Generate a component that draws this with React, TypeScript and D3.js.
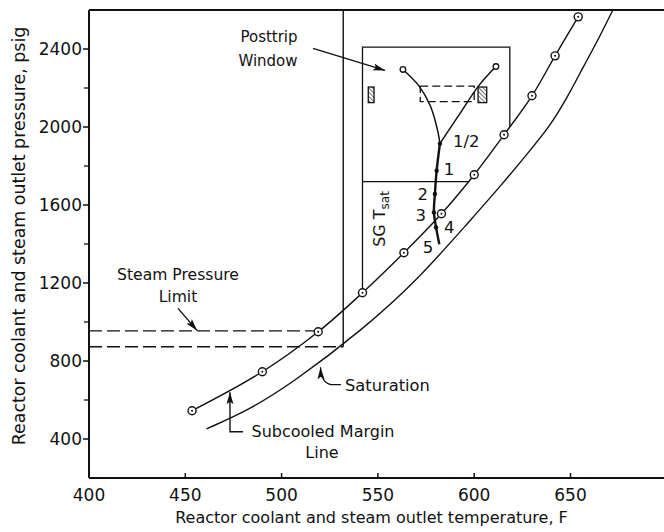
import React from 'react';
import * as d3 from 'd3';

// saturation line, temperature (F) / pressure (psig)
const satT = [461, 483, 506, 542, 571, 596, 614, 629, 639, 648, 657, 665, 672];
const satP = [452, 548, 690, 960, 1220, 1500, 1700, 1880, 2000, 2145, 2315, 2460, 2600];

// subcooled margin line (with circle markers)
const subT = [453.5, 490, 519, 542, 563.5, 583, 600, 615.5, 630, 642, 654];
const subP = [545, 745, 950, 1150, 1355, 1555, 1755, 1960, 2160, 2365, 2565];

// posttrip trajectory
const leftT = [563, 571.2, 577.2, 581.2, 582.2];
const leftP = [2295, 2212, 2109, 1974, 1914];
const rightT = [611.3, 602.3, 592, 585, 582.2];
const rightP = [2310, 2211, 2060, 1957, 1914];
const pathT = [582.2, 580.5, 579.6, 579.1, 580.2, 581.9];
const pathP = [1914, 1776, 1657, 1562, 1485, 1399];
const pathLabels = ['1/2', '1', '2', '3', '4', '5'];

// limits / window
const steamLimitHigh = 955;
const steamLimitLow = 873;
const sgTsat = 532;
const windowLeftT = 542;
const windowRightT = 618.5;
const windowTopP = 2410;
const windowMidP = 1720;
const windowMidEndT = 597;
const windowRightBottomP = 2000;
const windowLeftBottomP = 1150;
const dashBoxT = [572, 600];
const dashBoxP = [2130, 2210];
const hatchLeftT = [545, 548];
const hatchRightT = [602, 606.5];
const hatchP = [2125, 2205];

const xTicks = [400, 450, 500, 550, 600, 650];
const yTicks = [400, 800, 1200, 1600, 2000, 2400];
const yMinor = [600, 1000, 1400, 1800, 2200];

const W = 664;
const H = 532;
const FONT = 'DejaVu Sans, sans-serif';

export default function App() {
  const x = d3.scaleLinear().domain([400, 700]).range([89, 666.8]);
  const y = d3.scaleLinear().domain([200, 2600]).range([478, 10]);

  const line = d3
    .line<[number, number]>()
    .x(d => x(d[0]))
    .y(d => y(d[1]))
    .curve(d3.curveCatmullRom.alpha(0.5));
  // hand-read points are a bit noisy, so smooth the saturation line
  const smooth = d3
    .line<[number, number]>()
    .x(d => x(d[0]))
    .y(d => y(d[1]))
    .curve(d3.curveBasis);

  const zip = (a: number[], b: number[]) => a.map((v, i) => [v, b[i]] as [number, number]);
  const sat = zip(satT, satP);
  const sub = zip(subT, subP);
  const left = zip(leftT, leftP);
  const right = zip(rightT, rightP);
  const path = zip(pathT, pathP);

  // label offsets in px for the numbered points
  const labelOff: [number, number, string][] = [
    [13, 3, 'start'],
    [7, 4, 'start'],
    [-7, 6, 'end'],
    [-8, 9, 'end'],
    [8, 6, 'start'],
    [-6, 9, 'end'],
  ];

  const stroke = '#111';

  return (
    <svg
      width={W}
      height={H}
      style={{ position: 'absolute', left: 0, top: 0, background: '#fff' }}
      fontFamily={FONT}
    >
      <defs>
        <marker
          id="arr"
          viewBox="0 0 12 8"
          refX={12}
          refY={4}
          markerWidth={12}
          markerHeight={8}
          markerUnits="userSpaceOnUse"
          orient="auto"
        >
          <path d="M0,0.5 L12,4 L0,7.5 L2.5,4 z" fill={stroke} />
        </marker>
        <pattern id="hatch" width={3} height={3} patternUnits="userSpaceOnUse" patternTransform="rotate(-45)">
          <line x1={0} y1={0} x2={0} y2={3} stroke={stroke} strokeWidth={1.2} />
        </pattern>
      </defs>

      {/* frame */}
      <line x1={x(400)} x2={W} y1={y(200)} y2={y(200)} stroke={stroke} strokeWidth={2} />
      <line x1={x(400)} x2={W} y1={y(2600)} y2={y(2600)} stroke={stroke} strokeWidth={2} />
      <line x1={x(400)} x2={x(400)} y1={y(2600)} y2={y(200)} stroke={stroke} strokeWidth={2} />

      {/* x ticks (inward) */}
      {xTicks.map(t => (
        <g key={'x' + t}>
          {t > 400 && <line x1={x(t)} x2={x(t)} y1={y(200)} y2={y(200) - 5} stroke={stroke} strokeWidth={1.5} />}
          <text x={x(t)} y={501} textAnchor="middle" fontSize={17} fill={stroke}>
            {t}
          </text>
        </g>
      ))}

      {/* y ticks (outward) */}
      {yTicks.map(t => (
        <g key={'y' + t}>
          <line x1={x(400) - 6} x2={x(400)} y1={y(t)} y2={y(t)} stroke={stroke} strokeWidth={1.5} />
          <text x={82} y={y(t)} dy="0.36em" textAnchor="end" fontSize={17} fill={stroke}>
            {t}
          </text>
        </g>
      ))}
      {yMinor.map(t => (
        <line key={'m' + t} x1={x(400) - 5} x2={x(400)} y1={y(t)} y2={y(t)} stroke={stroke} strokeWidth={1.3} />
      ))}

      {/* axis titles */}
      <text x={371.5} y={523} textAnchor="middle" fontSize={16} fill={stroke}>
        Reactor coolant and steam outlet temperature, F
      </text>
      <text
        transform={`translate(25,236) rotate(-90)`}
        textAnchor="middle"
        fontSize={17.4}
        fill={stroke}
      >
        Reactor coolant and steam outlet pressure, psig
      </text>

      {/* steam pressure limit dashed lines */}
      <line
        x1={x(400)}
        x2={x(subT[2]) - 4}
        y1={y(steamLimitHigh)}
        y2={y(steamLimitHigh)}
        stroke={stroke}
        strokeWidth={1.3}
        strokeDasharray="13,5"
      />
      <line
        x1={x(400)}
        x2={x(sgTsat)}
        y1={y(steamLimitLow)}
        y2={y(steamLimitLow)}
        stroke={stroke}
        strokeWidth={1.3}
        strokeDasharray="13,5"
      />

      {/* SG Tsat vertical line */}
      <line x1={x(sgTsat)} x2={x(sgTsat)} y1={y(2600)} y2={y(steamLimitLow)} stroke={stroke} strokeWidth={1.4} />

      {/* posttrip window */}
      <path
        d={`M${x(windowLeftT)},${y(windowLeftBottomP)} V${y(windowTopP)} H${x(windowRightT)} V${y(windowRightBottomP)}`}
        fill="none"
        stroke={stroke}
        strokeWidth={1.3}
      />
      <line
        x1={x(windowLeftT)}
        x2={x(windowMidEndT)}
        y1={y(windowMidP)}
        y2={y(windowMidP)}
        stroke={stroke}
        strokeWidth={1.3}
      />
      <rect
        x={x(dashBoxT[0])}
        y={y(dashBoxP[1])}
        width={x(dashBoxT[1]) - x(dashBoxT[0])}
        height={y(dashBoxP[0]) - y(dashBoxP[1])}
        fill="none"
        stroke={stroke}
        strokeWidth={1.3}
        strokeDasharray="8,4"
      />
      {[hatchLeftT, hatchRightT].map((h, i) => (
        <rect
          key={'h' + i}
          x={x(h[0])}
          y={y(hatchP[1])}
          width={x(h[1]) - x(h[0])}
          height={y(hatchP[0]) - y(hatchP[1])}
          fill="url(#hatch)"
          stroke={stroke}
          strokeWidth={1.3}
        />
      ))}

      {/* saturation and subcooled margin lines */}
      <path d={smooth(sat) || ''} fill="none" stroke={stroke} strokeWidth={1.4} />
      <path d={line(sub) || ''} fill="none" stroke={stroke} strokeWidth={1.4} />
      {sub.map((d, i) => (
        <g key={'s' + i}>
          <circle cx={x(d[0])} cy={y(d[1])} r={4} fill="#fff" stroke={stroke} strokeWidth={1.4} />
          <circle cx={x(d[0])} cy={y(d[1])} r={1} fill={stroke} />
        </g>
      ))}

      {/* trajectory */}
      <path d={line(left) || ''} fill="none" stroke={stroke} strokeWidth={1.5} />
      <path d={line(right) || ''} fill="none" stroke={stroke} strokeWidth={1.5} />
      <path d={line(path) || ''} fill="none" stroke={stroke} strokeWidth={2.4} />
      {[left[0], right[0]].map((d, i) => (
        <circle key={'o' + i} cx={x(d[0])} cy={y(d[1])} r={2.8} fill="#fff" stroke={stroke} strokeWidth={1.3} />
      ))}
      {path.slice(0, 5).map((d, i) => (
        <circle key={'p' + i} cx={x(d[0])} cy={y(d[1])} r={2.2} fill={stroke} />
      ))}
      {path.map((d, i) => (
        <text
          key={'l' + i}
          x={x(d[0]) + labelOff[i][0]}
          y={y(d[1]) + labelOff[i][1]}
          textAnchor={labelOff[i][2]}
          fontSize={16.5}
          fill={stroke}
        >
          {pathLabels[i]}
        </text>
      ))}

      {/* SG Tsat label */}
      <text transform="translate(385,219) rotate(-90)" textAnchor="middle" fontSize={16} fill={stroke}>
        SG T
        <tspan dy={4} fontSize={12}>
          sat
        </tspan>
      </text>

      {/* Posttrip Window annotation */}
      <text x={269} y={42} textAnchor="middle" fontSize={15} fill={stroke}>
        Posttrip
      </text>
      <text x={268} y={66} textAnchor="middle" fontSize={15} fill={stroke}>
        Window
      </text>
      <line
        x1={x(516.3)}
        y1={y(2403)}
        x2={x(553.7)}
        y2={y(2290)}
        stroke={stroke}
        strokeWidth={1.3}
        markerEnd="url(#arr)"
      />

      {/* Steam Pressure Limit annotation */}
      <text x={178} y={280} textAnchor="middle" fontSize={15.6} fill={stroke}>
        Steam Pressure
      </text>
      <text x={178} y={302} textAnchor="middle" fontSize={15.6} fill={stroke}>
        Limit
      </text>
      <line
        x1={x(446.2)}
        y1={y(1070)}
        x2={x(456.1)}
        y2={y(957)}
        stroke={stroke}
        strokeWidth={1.4}
        markerEnd="url(#arr)"
      />

      {/* Saturation annotation */}
      <text x={345} y={391} fontSize={16.3} fill={stroke}>
        Saturation
      </text>
      <path
        d={`M${x(530.8)},${y(679)} H${x(525.6)} Q${x(520.5)},${y(690)} ${x(520.2)},${y(768)}`}
        fill="none"
        stroke={stroke}
        strokeWidth={1.3}
        markerEnd="url(#arr)"
      />

      {/* Subcooled Margin Line annotation */}
      <text x={323} y={437} textAnchor="middle" fontSize={16} fill={stroke}>
        Subcooled Margin
      </text>
      <text x={322} y={458} textAnchor="middle" fontSize={16} fill={stroke}>
        Line
      </text>
      <path
        d={`M${x(480)},${y(437)} H${x(473.2)} V${y(640)}`}
        fill="none"
        stroke={stroke}
        strokeWidth={1.4}
        markerEnd="url(#arr)"
      />
    </svg>
  );
}
